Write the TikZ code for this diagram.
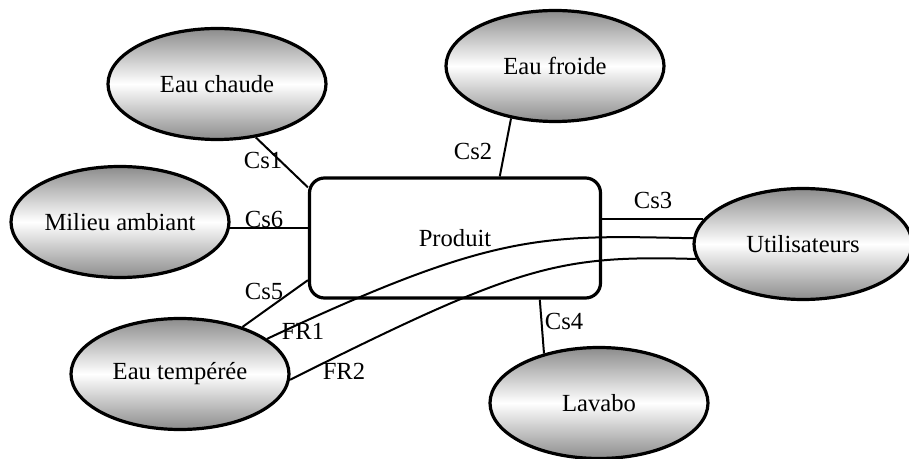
\documentclass[tikz,border=0pt]{standalone}
\usepackage{fontspec}
\setmainfont{Liberation Serif}
\usepackage{tikz}
\usetikzlibrary{shapes.geometric}
\definecolor{Ink}{HTML}{000000}
\definecolor{ShadeGray}{HTML}{8C8C8C}
\tikzset{
  apteMilieu/.style={ellipse,draw=Ink,line width=1.6pt,
    top color=ShadeGray,bottom color=ShadeGray,middle color=white,
    minimum width=109pt,minimum height=55.5pt,inner sep=0pt,
    font=\fontsize{12.3}{14}\selectfont},
  apteProduit/.style={rectangle,rounded corners=7.5pt,draw=Ink,line width=1.6pt,
    minimum width=145.5pt,minimum height=60pt,font=\fontsize{12.3}{14}\selectfont},
  apteLien/.style={draw=Ink,line width=1pt},
  apteLabel/.style={font=\fontsize{12.3}{14}\selectfont,inner sep=0pt}
}
\begin{document}
\begin{tikzpicture}[x=0.5pt,y=-0.5pt]
  \useasboundingbox (0,0) rectangle (909,459);
  % Milieux exterieurs
  \node[apteMilieu] (chaude) at (217,84) {Eau chaude};
  \node[apteMilieu] (froide) at (555,66) {Eau froide};
  \node[apteMilieu] (ambiant) at (120,222) {Milieu ambiant};
  \node[apteMilieu] (utilisateurs) at (803,244) {Utilisateurs};
  \node[apteMilieu] (temperee) at (180,374) {Eau tempérée};
  \node[apteMilieu] (lavabo) at (599,403) {Lavabo};

  % Produit
  \node[apteProduit] (produit) at (455,238) {Produit};

  % Fonctions contraintes
  \draw[apteLien] (chaude.-54) -- (produit.161);
  \draw[apteLien] (froide.230) -- (produit.54);
  \draw[apteLien] (utilisateurs.166) -- (utilisateurs.166 -| produit.east);
  \draw[apteLien] (ambiant.-3) -- (ambiant.-3 -| produit.west);
  \draw[apteLien] (temperee.37) -- (produit.196);
  \draw[apteLien] (produit.-36) -- (lavabo.138);

  % Fonctions principales
  \draw[apteLien] (temperee.22) .. controls +(230,-108) and +(-150,-3) .. (utilisateurs.177);
  \draw[apteLien] (temperee.-3) .. controls +(230,-115) and +(-138,-4) .. (utilisateurs.188);

  % Reperes
  \node[apteLabel] (cs1) at (263,160) {Cs1};
  \node[apteLabel] (cs2) at (473,151) {Cs2};
  \node[apteLabel] (cs3) at (653,200) {Cs3};
  \node[apteLabel] (cs4) at (564,321) {Cs4};
  \node[apteLabel] (cs5) at (264,291) {Cs5};
  \node[apteLabel] (cs6) at (264,219) {Cs6};
  \node[apteLabel] (fr1) at (303,331) {FR1};
  \node[apteLabel] (fr2) at (344,371) {FR2};
\end{tikzpicture}
\end{document}
